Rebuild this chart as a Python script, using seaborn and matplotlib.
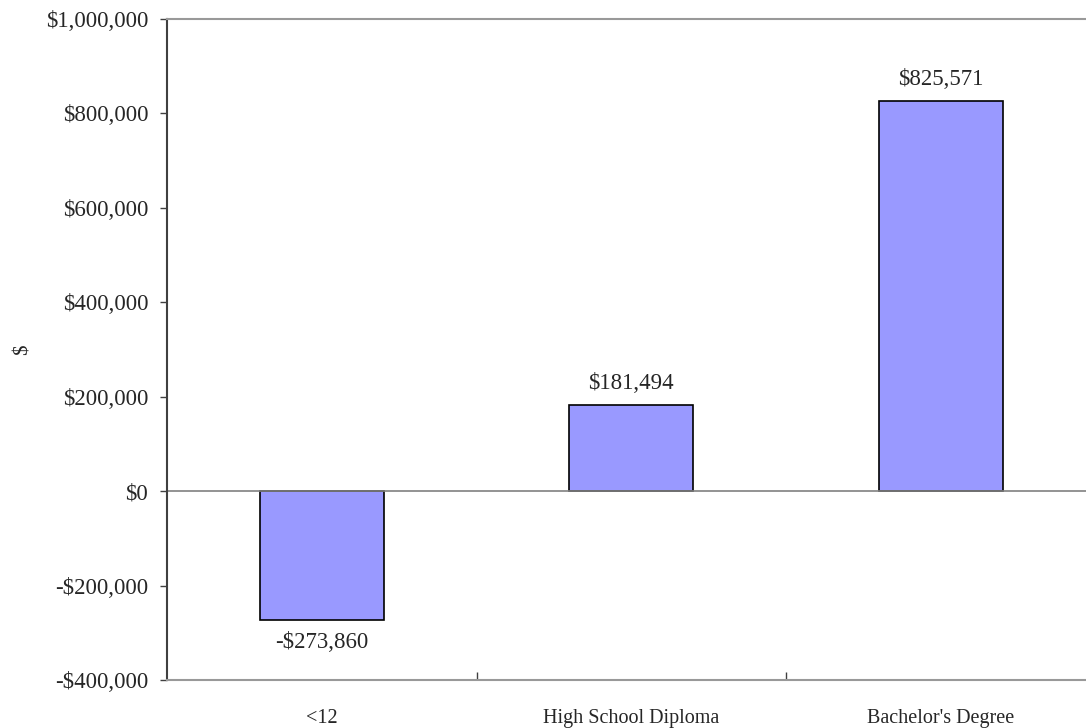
import matplotlib
matplotlib.use("Agg")
import matplotlib.pyplot as plt
import seaborn as sns
import pandas as pd
from matplotlib.ticker import FuncFormatter, FixedLocator

categories = ["<12", "High School Diploma", "Bachelor's Degree"]
values = [-273860, 181494, 825571]
y_ticks = [-400000, -200000, 0, 200000, 400000, 600000, 800000, 1000000]

sns.set_theme(style="white")
plt.rcParams["font.family"] = ["Liberation Serif", "DejaVu Serif"]

df = pd.DataFrame({"level": categories, "value": values})

fig = plt.figure(figsize=(10.86, 7.28), dpi=100)
ax = fig.add_axes([0.1538, 0.0659, 0.855, 0.908])

sns.barplot(data=df, x="level", y="value", ax=ax, color="#9999FF",
            saturation=1, width=0.4, edgecolor="black", linewidth=1.2)

def money(v, pos=None):
    v = int(round(v))
    return f"-${abs(v):,}" if v < 0 else f"${v:,}"

ax.set_ylim(-400000, 1000000)
ax.set_xlim(-0.5, 2.5)
ax.yaxis.set_major_locator(FixedLocator(y_ticks))
ax.yaxis.set_major_formatter(FuncFormatter(money))
ax.axhline(0, color="#808080", linewidth=1.2, zorder=1)

for i, v in enumerate(values):
    off = 8 if v >= 0 else -8
    ax.annotate(money(v), xy=(i, v), xytext=(0, off), textcoords="offset points",
                ha="center", va="bottom" if v >= 0 else "top", fontsize=16.5)

ax.set_xlabel("")
ax.set_ylabel("$", fontsize=15)
ax.yaxis.set_label_coords(-0.145, 0.5)
ax.tick_params(axis="y", labelsize=16.5, length=5, width=1, color="#404040",
               direction="out", left=True, pad=8.5)
ax.tick_params(axis="x", labelsize=14.5, length=0, pad=21)

# category separators drawn as minor ticks
ax.set_xticks([0.5, 1.5], minor=True)
ax.tick_params(axis="x", which="minor", length=6, width=1, color="#404040",
               direction="in", bottom=True)

for side in ["top", "bottom"]:
    ax.spines[side].set_color("#999999")
    ax.spines[side].set_linewidth(1.5)
ax.spines["left"].set_color("#404040")
ax.spines["left"].set_linewidth(1.5)
ax.spines["right"].set_visible(False)

fig.savefig("out.png", dpi=100)
